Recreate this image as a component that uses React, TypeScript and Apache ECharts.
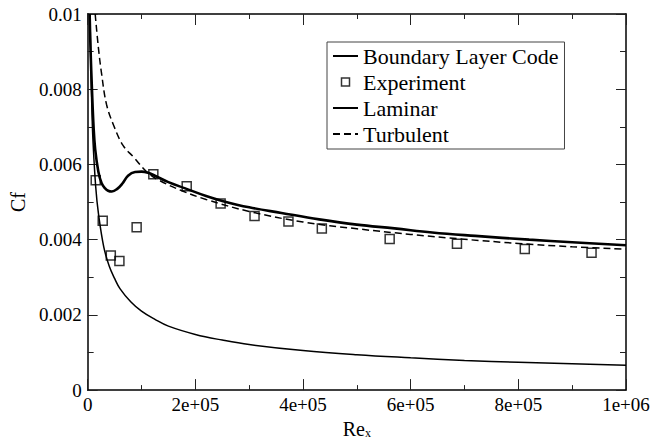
import React, { useEffect, useRef } from "react";
import * as echarts from "echarts";

// ---- data ----
const xTickLabels = ["0", "2e+05", "4e+05", "6e+05", "8e+05", "1e+06"];
const yTickLabels = ["0", "0.002", "0.004", "0.006", "0.008", "0.01"];

const seriesNames = ["Boundary Layer Code", "Experiment", "Laminar", "Turbulent"];

// Boundary layer code (thick solid line): [Re_x, Cf]
const boundaryLayerCode: [number, number][] = [
  [3700, 0.01], [5500, 0.009], [8000, 0.008], [11000, 0.007], [14000, 0.0064],
  [20000, 0.0058], [26000, 0.0055], [32000, 0.00537], [38000, 0.0053], [45000, 0.00528],
  [55000, 0.00535], [65000, 0.0055], [75000, 0.0057], [88000, 0.0058], [100000, 0.00581],
  [112000, 0.00578], [125000, 0.0057], [150000, 0.00553], [180000, 0.00537], [220000, 0.00516],
  [250000, 0.00503], [300000, 0.00486], [360000, 0.00471], [430000, 0.00454], [500000, 0.0044],
  [570000, 0.0043], [640000, 0.00419], [720000, 0.0041], [820000, 0.004], [900000, 0.00393],
  [1000000, 0.00385],
];

// Experiment (hollow squares)
const experiment: [number, number][] = [
  [15000, 0.00558], [28000, 0.0045], [43000, 0.00358], [59000, 0.00343], [91000, 0.00433],
  [122000, 0.00574], [184000, 0.00542], [247000, 0.00496], [310000, 0.00463], [373000, 0.00448],
  [435000, 0.0043], [561000, 0.00402], [686000, 0.00389], [812000, 0.00375], [936000, 0.00365],
];

// Laminar (thin solid line)
const laminar: [number, number][] = [
  [4400, 0.01], [6000, 0.0086], [8000, 0.0074], [10000, 0.0066], [15000, 0.0054],
  [20000, 0.0047], [30000, 0.0038], [40000, 0.0033], [50000, 0.00297], [60000, 0.0027],
  [80000, 0.00235], [100000, 0.0021], [125000, 0.00188], [150000, 0.0017], [200000, 0.00148],
  [250000, 0.00133], [300000, 0.00121], [400000, 0.00105], [500000, 0.00094], [600000, 0.00086],
  [700000, 0.00079], [800000, 0.00074], [900000, 0.0007], [1000000, 0.00066],
];

// Turbulent (dashed line)
const turbulent: [number, number][] = [
  [14000, 0.01], [20000, 0.0091], [26000, 0.0084], [35000, 0.0076], [48000, 0.00705],
  [66000, 0.0065], [85000, 0.0062], [110000, 0.0058], [130000, 0.0056], [175000, 0.0053],
  [220000, 0.00507], [300000, 0.00475], [400000, 0.00447], [500000, 0.00429], [600000, 0.00414],
  [700000, 0.00401], [800000, 0.0039], [900000, 0.00381], [1000000, 0.00375],
];

const FONT = "Liberation Serif";
const NOFILL = "rgba(0,0,0,0)";

export default function App() {
  const ref = useRef<HTMLDivElement>(null);

  useEffect(() => {
    if (!ref.current) return;
    const chart = echarts.init(ref.current, undefined, { renderer: "svg" });

    const axisLine = { show: true, onZero: false, lineStyle: { color: "#000", width: 1.5 } };
    const xTick = { show: true, inside: true, length: 11, lineStyle: { color: "#222", width: 1 } };
    const xMinor = { show: true, splitNumber: 2, length: 5, lineStyle: { color: "#222", width: 1 } };
    const yTick = { show: true, inside: true, length: 10, lineStyle: { color: "#222", width: 1 } };
    const yMinor = { show: true, splitNumber: 2, length: 6, lineStyle: { color: "#222", width: 1 } };

    const option: any = {
      animation: false,
      backgroundColor: "#fff",
      textStyle: { fontFamily: FONT },
      grid: { left: 82, right: 38, top: 14, bottom: 48, containLabel: false },
      legend: {
        orient: "vertical",
        left: 327,
        top: 42,
        padding: [3, 6, 4, 5],
        itemGap: 4,
        itemWidth: 25,
        itemHeight: 8,
        itemTextGap: 11,
        borderColor: "#444",
        borderWidth: 1,
        backgroundColor: "#fff",
        textStyle: { fontFamily: FONT, fontSize: 22, color: "#000", lineHeight: 20 },
        data: [
          { name: seriesNames[0] },
          {
            name: seriesNames[1],
            icon: "path://M0,0L10,0L10,10L0,10Z",
            itemStyle: { color: NOFILL, borderColor: "#000", borderWidth: 1.5 },
          },
          { name: seriesNames[2] },
          { name: seriesNames[3] },
        ],
      },
      xAxis: [
        {
          type: "value",
          min: 0,
          max: 1000000,
          interval: 200000,
          position: "bottom",
          axisLine,
          axisTick: xTick,
          minorTick: xMinor,
          splitLine: { show: false },
          axisLabel: {
            show: true,
            margin: 5,
            fontSize: 19,
            color: "#000",
            fontFamily: FONT,
            formatter: (v: number) => xTickLabels[Math.round(v / 200000)] ?? "",
          },
          name: "Re{s|x}",
          nameLocation: "middle",
          nameGap: 25,
          nameTextStyle: {
            fontFamily: FONT,
            fontSize: 20,
            color: "#000",
            rich: { s: { fontFamily: FONT, fontSize: 12, color: "#000", verticalAlign: "bottom", padding: [8, 0, 0, 0] } },
          },
        },
        {
          type: "value",
          min: 0,
          max: 1000000,
          interval: 200000,
          position: "top",
          axisLine,
          axisTick: xTick,
          minorTick: xMinor,
          splitLine: { show: false },
          axisLabel: { show: false },
        },
      ],
      yAxis: [
        {
          type: "value",
          min: 0,
          max: 0.01,
          interval: 0.002,
          position: "left",
          axisLine,
          axisTick: yTick,
          minorTick: yMinor,
          splitLine: { show: false },
          axisLabel: {
            show: true,
            margin: 6,
            fontSize: 19,
            color: "#000",
            fontFamily: FONT,
            formatter: (v: number) => yTickLabels[Math.round(v / 0.002)] ?? "",
          },
          name: "Cf",
          nameLocation: "middle",
          nameGap: 54,
          nameRotate: 90,
          nameTextStyle: { fontFamily: FONT, fontSize: 20, color: "#000" },
        },
        {
          type: "value",
          min: 0,
          max: 0.01,
          interval: 0.002,
          position: "right",
          axisLine,
          axisTick: yTick,
          minorTick: yMinor,
          splitLine: { show: false },
          axisLabel: { show: false },
        },
      ],
      series: [
        {
          name: seriesNames[0],
          type: "line",
          data: boundaryLayerCode,
          symbol: "none",
          smooth: 0.4,
          lineStyle: { color: "#000", width: 2.6 },
          itemStyle: { color: NOFILL },
          z: 3,
        },
        {
          name: seriesNames[1],
          type: "scatter",
          data: experiment,
          symbol: "rect",
          symbolSize: 9,
          itemStyle: { color: NOFILL, borderColor: "#000", borderWidth: 1.5 },
          z: 5,
        },
        {
          name: seriesNames[2],
          type: "line",
          data: laminar,
          symbol: "none",
          smooth: 0.4,
          lineStyle: { color: "#000", width: 1.5 },
          itemStyle: { color: NOFILL },
          z: 2,
        },
        {
          name: seriesNames[3],
          type: "line",
          data: turbulent,
          symbol: "none",
          smooth: 0.4,
          lineStyle: { color: "#000", width: 1.5, type: [7, 4] },
          itemStyle: { color: NOFILL },
          z: 2,
        },
      ],
    };

    chart.setOption(option);
    return () => chart.dispose();
  }, []);

  return (
    <div
      ref={ref}
      style={{ position: "fixed", left: 0, top: 0, width: 664, height: 444, background: "#fff" }}
    />
  );
}
